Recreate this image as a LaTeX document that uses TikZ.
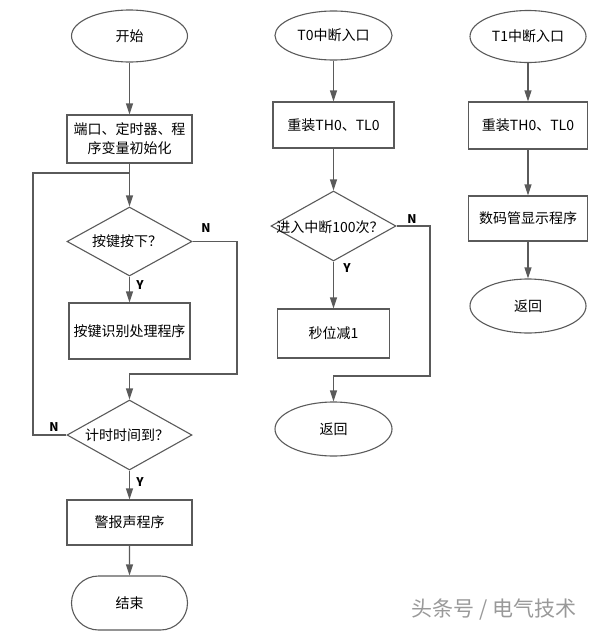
\documentclass[tikz,border=0pt]{standalone}
\usepackage{fontspec}
\setmainfont{Noto Sans CJK SC}
\usetikzlibrary{shapes.geometric,shapes.misc,arrows.meta}
\definecolor{lncol}{HTML}{5A5A5A}
\begin{document}
\begin{tikzpicture}[x=1pt,y=-1pt,
  base/.style={draw=lncol, line width=1.1pt, inner sep=0pt, font=\fontsize{14}{19}\selectfont, text=black},
  txt/.style={inner sep=0pt, font=\fontsize{14}{19}\selectfont, text=black},
  term/.style={base, ellipse, minimum width=116pt, minimum height=52pt},
  proc/.style={base, rectangle, minimum width=125pt, minimum height=47pt, align=center},
  dec/.style={base, diamond, minimum width=125pt, minimum height=69pt},
  arr/.style={draw=lncol, line width=1.1pt, -{Triangle[length=11pt,width=7pt]}},
  wire/.style={draw=lncol, line width=1.1pt},
  yn/.style={font=\fontsize{12}{14}\selectfont\bfseries, text=black},
]
\useasboundingbox (0,0) rectangle (605,635);

% ---------- main program ----------
\node[term] (start) at (129.5,36) {开始};
\node[proc, minimum height=48pt] (init) at (129.5,139) {端口、定时器、程\\序变量初始化};
\node[dec] (d1) at (129.5,241.5) {};
\node[txt] (d1t) at (127,241.5) {按键按下？};
\node[proc, minimum width=121pt, minimum height=56pt] (key) at (129.5,331) {按键识别处理程序};
\node[dec, minimum height=70pt] (d2) at (129.5,435) {};
\node[txt] (d2t) at (127,435) {计时时间到？};
\node[proc, minimum height=45pt] (alarm) at (129.5,522.5) {警报声程序};
\node[base, rounded rectangle, minimum width=116pt, minimum height=54pt] (end) at (129.5,603) {结束};

\coordinate (r1) at (237,374);
\coordinate (j1) at (129.5,374);
\coordinate (l1) at (33,173);
\coordinate (j0) at (129.5,173);

\draw[arr] (start) -- (init);
\draw[arr] (init) -- (d1);
\draw[arr] (d1) -- (key);
\draw[arr] (d1.east) -| (r1) -- (j1) -- (d2.north);
\draw[wire] (d2.west) -| (l1) -- (j0);
\draw[arr] (d2) -- (alarm);
\draw[arr] (alarm) -- (end);

\node[yn] (n1) at (206,228) {N};
\node[yn] (y1) at (140,285) {Y};
\node[yn] (n2) at (54,427) {N};
\node[yn] (y2) at (140,482) {Y};

% ---------- T0 interrupt ----------
\node[term, minimum width=117pt, minimum height=49pt] (t0) at (333.5,35.5) {T0中断入口};
\node[proc, minimum width=121pt, minimum height=46pt] (rl0) at (333.5,125) {重装TH0、TL0};
\node[dec, minimum height=70pt] (d3) at (333.5,226) {};
\node[txt] (d3t) at (330,227) {进入中断100次？};
\node[proc, minimum width=112pt, minimum height=49pt] (sec) at (333.5,333.5) {秒位减1};
\node[term, minimum width=117pt, minimum height=54pt] (ret0) at (333.5,429) {返回};

\coordinate (r3) at (430,376);
\coordinate (j3) at (333.5,376);

\draw[arr] (t0) -- (rl0);
\draw[arr] (rl0) -- (d3);
\draw[arr] (d3) -- (sec);
\draw[arr] (d3.east) -| (r3) -- (j3) -- (ret0.north);

\node[yn] (n3) at (412,219) {N};
\node[yn] (y3) at (347,268) {Y};

% ---------- T1 interrupt ----------
\node[term] (t1) at (528,36.5) {T1中断入口};
\node[proc, minimum width=119pt, minimum height=47pt] (rl1) at (528,125.5) {重装TH0、TL0};
\node[proc, minimum width=119pt, minimum height=45pt] (disp) at (528,218.5) {数码管显示程序};
\node[term, minimum height=54pt] (ret1) at (528,306) {返回};

\draw[arr] (t1) -- (rl1);
\draw[arr] (rl1) -- (disp);
\draw[arr] (disp) -- (ret1);

% ---------- watermark ----------
\node[font=\fontsize{21}{24}\selectfont, text=black!40] (wm) at (494,610) {头条号 / 电气技术};
\end{tikzpicture}
\end{document}
